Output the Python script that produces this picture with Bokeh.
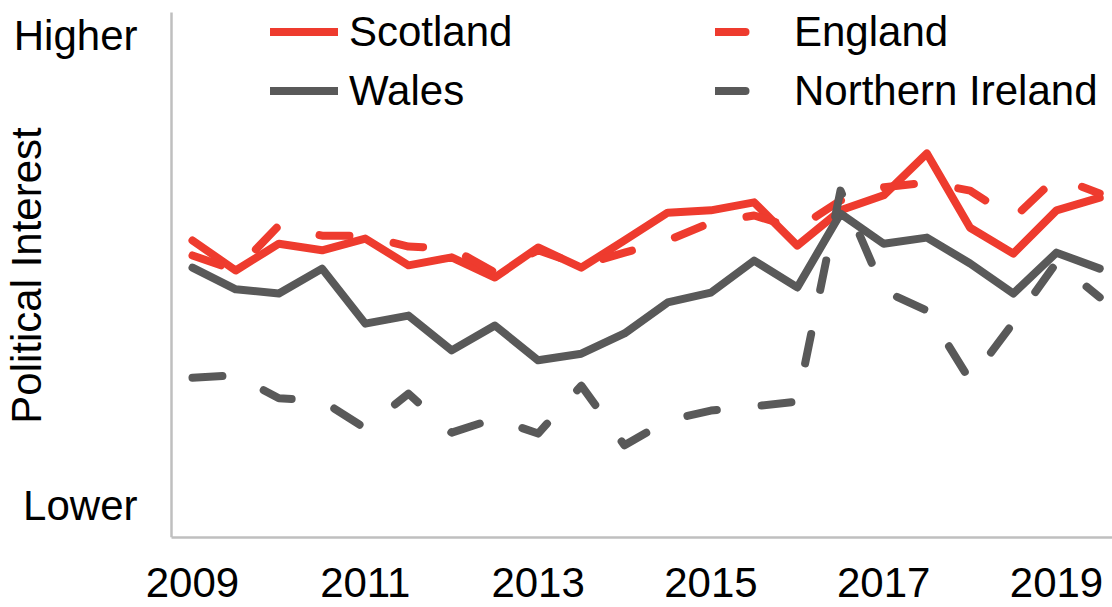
import math
from bokeh.plotting import figure
from bokeh.models import Range1d, FixedTicker, Legend, LegendItem, Label
from bokeh.embed import file_html
from bokeh.resources import INLINE

# Half-yearly survey waves
periods = [2009.0, 2009.5, 2010.0, 2010.5, 2011.0, 2011.5, 2012.0, 2012.5,
           2013.0, 2013.5, 2014.0, 2014.5, 2015.0, 2015.5, 2016.0, 2016.5,
           2017.0, 2017.5, 2018.0, 2018.5, 2019.0, 2019.5]

# Political interest index (0 = Lower, 10 = Higher)
scotland = [5.64, 5.00, 5.57, 5.43, 5.68, 5.11, 5.28, 4.85, 5.49, 5.06, 5.64,
            6.23, 6.28, 6.45, 5.53, 6.28, 6.60, 7.49, 5.91, 5.36, 6.28, 6.55]
england = [5.32, 5.00, 5.96, 5.74, 5.74, 5.51, 5.47, 4.96, 5.43, 5.11, 5.38,
           5.64, 6.02, 6.17, 5.89, 6.49, 6.77, 6.87, 6.70, 6.11, 6.98, 6.64]
wales = [5.06, 4.60, 4.51, 5.04, 3.87, 4.04, 3.30, 3.83, 3.09, 3.23, 3.66,
         4.32, 4.53, 5.21, 4.64, 6.21, 5.57, 5.70, 5.15, 4.51, 5.38, 5.04]
northern_ireland = [2.72, 2.77, 2.28, 2.23, 1.64, 2.38, 1.55, 1.85, 1.53, 2.55, 1.28,
                    1.81, 2.02, 2.11, 2.21, 6.70, 4.57, 4.15, 2.66, 3.89, 5.17, 4.43]

year_ticks = [2009, 2011, 2013, 2015, 2017, 2019]
y_ticks = [0, 10]
y_tick_labels = {0: "Lower", 10: "Higher"}

RED = "#EE3B2E"
GRAY = "#595959"
FONT = "Liberation Sans"
FS = "42px"

X_AXIS_AT = 2008.757   # where the vertical axis line sits
X_MIN, X_MAX = 2006.778, 2019.648
Y_MIN, Y_MAX = -0.681, 10.745
Y_AXIS_TOP = 10.489

p = figure(width=1112, height=607, output_backend="svg", toolbar_location=None,
           x_range=Range1d(X_MIN, X_MAX), y_range=Range1d(Y_MIN, Y_MAX),
           min_border_left=0, min_border_right=0, min_border_top=0, min_border_bottom=70)
p.outline_line_color = None
p.xgrid.visible = False
p.ygrid.visible = False
p.background_fill_color = "white"
p.border_fill_color = "white"

common = dict(line_width=8, line_cap="round", line_join="round")
r_sc = p.line(periods, scotland, line_color=RED, **common)
r_en = p.line(periods, england, line_color=RED, line_dash="30 45", **common)
r_wa = p.line(periods, wales, line_color=GRAY, **common)
r_ni = p.line(periods, northern_ireland, line_color=GRAY, line_dash="30 45", **common)

for ax in (p.xaxis[0], p.yaxis[0]):
    ax.axis_line_color = "#BFBFBF"
    ax.axis_line_width = 2.5
    ax.major_tick_line_color = None
    ax.minor_tick_line_color = None
    ax.major_label_text_font = FONT
    ax.major_label_text_font_size = FS
    ax.major_label_text_color = "black"

p.xaxis.ticker = FixedTicker(ticks=year_ticks)
p.xaxis.major_label_standoff = 24
p.xaxis.bounds = (X_AXIS_AT, X_MAX)
p.yaxis.ticker = FixedTicker(ticks=y_ticks)
p.yaxis.major_label_overrides = y_tick_labels
p.yaxis.major_label_standoff = 28
p.yaxis.fixed_location = X_AXIS_AT
p.yaxis.bounds = (Y_MIN, Y_AXIS_TOP)

title = Label(x=26, y=262, x_units="screen", y_units="screen", text="Political Interest",
              angle=math.pi / 2, text_align="center", text_baseline="middle",
              text_font=FONT, text_font_size=FS, text_color="black")
p.add_layout(title)

legend_style = dict(spacing=0, padding=0, margin=0, border_line_alpha=0,
                    background_fill_alpha=0, label_text_font=FONT, label_text_font_size=FS,
                    label_text_color="black", glyph_height=59, label_height=59)

leg1 = Legend(items=[LegendItem(label="Scotland", renderers=[r_sc]),
                     LegendItem(label="Wales", renderers=[r_wa])],
              location=(270, 417), glyph_width=68, label_standoff=11, **legend_style)
leg2 = Legend(items=[LegendItem(label="England", renderers=[r_en]),
                     LegendItem(label="Northern Ireland", renderers=[r_ni])],
              location=(715, 417), glyph_width=36, label_standoff=43, **legend_style)
p.add_layout(leg1)
p.add_layout(leg2)

open("out.html", "w").write(file_html(p, INLINE))
